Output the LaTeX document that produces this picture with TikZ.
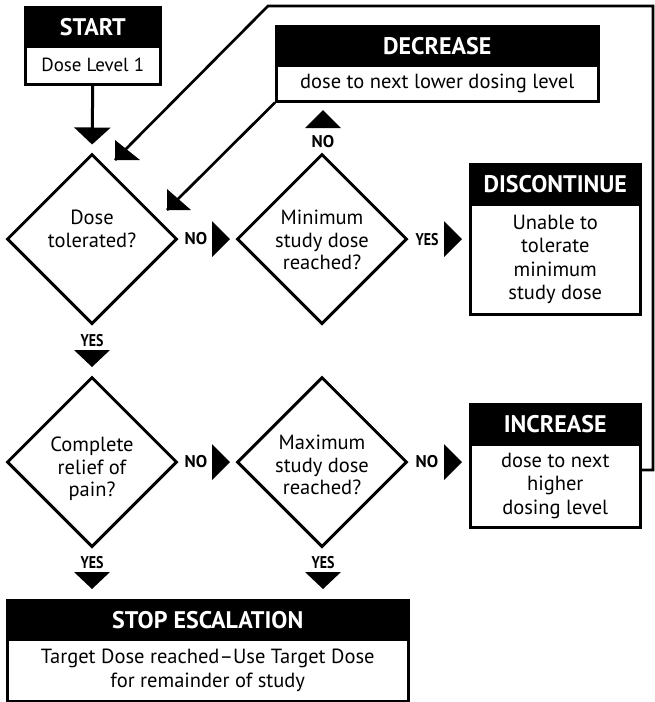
\documentclass[tikz,border=0pt]{standalone}
\usepackage{fontspec}
\setmainfont{PT Sans}
\newfontfamily\condf{PT Sans}[FakeStretch=0.82]
\usetikzlibrary{arrows.meta,shapes.geometric}
\tikzset{
  hdr/.style={fill=black, draw=black, line width=2.5pt, text=white, inner sep=0pt, anchor=north west,
    font=\fontsize{24}{28}\selectfont\bfseries},
  bodybox/.style={draw=black, line width=2.5pt, fill=white, inner sep=0pt, anchor=north west, align=center,
    font=\fontsize{20.5}{23.5}\selectfont},
  dia/.style={diamond, draw=black, line width=3pt, minimum width=170pt, minimum height=170pt, inner sep=0pt},
  diatext/.style={align=center, inner sep=0pt, font=\fontsize{20.5}{22.5}\selectfont},
  lbl/.style={inner sep=0pt, font=\condf\fontsize{17}{20}\selectfont\bfseries},
  nolbl/.style={inner sep=0pt, font=\fontsize{17}{20}\selectfont\bfseries},
  arr/.style={line width=3pt, -{Triangle[length=17pt,width=36pt]}},
  loopline/.style={line width=2.7pt, line join=miter},
}
\begin{document}
\begin{tikzpicture}[x=1pt,y=-1pt]
\useasboundingbox (0,0) rectangle (654,702);
% START box
\node[bodybox, minimum width=135pt, minimum height=38pt, font=\fontsize{19}{23}\selectfont] (startb) at (24,45) {Dose Level 1};
\node[hdr, minimum width=135pt, minimum height=39pt] (starth) at (24,6) {START};
% DECREASE box
\node[bodybox, minimum width=322pt, minimum height=36pt] (decb) at (275,64) {dose to next lower dosing level};
\node[hdr, minimum width=322pt, minimum height=39pt] (dech) at (275,25) {DECREASE};
% DISCONTINUE box
\node[bodybox, minimum width=170pt, minimum height=110pt] (disb) at (469,203) {Unable to\\tolerate\\minimum\\study dose};
\node[hdr, minimum width=170pt, minimum height=40pt] (dish) at (469,163) {DISCONTINUE};
% INCREASE box
\node[bodybox, minimum width=170pt, minimum height=83pt] (incb) at (469,443) {dose to next\\higher\\dosing level};
\node[hdr, minimum width=170pt, minimum height=40pt] (inch) at (469,403) {INCREASE};
% STOP box
\node[bodybox, minimum width=401pt, minimum height=62pt] (stopb) at (6,638) {Target Dose reached--Use Target Dose\\for remainder of study};
\node[hdr, minimum width=401pt, minimum height=39pt] (stoph) at (6,599) {STOP ESCALATION};
% diamonds
\node[dia] (d1) at (92,239) {};
\node[dia] (d2) at (322,239) {};
\node[dia] (d3) at (92,462) {};
\node[dia] (d4) at (322,462) {};
\node[diatext] (t1) at (92,229) {Dose\\tolerated?};
\node[diatext] (t2) at (322,240) {Minimum\\study dose\\reached?};
\node[diatext] (t3) at (92,469) {Complete\\relief of\\pain?};
\node[diatext] (t4) at (322,465) {Maximum\\study dose\\reached?};
% START -> d1
\draw[arr, shorten >=8pt] (startb.south) -- (d1.north);
% loop from INCREASE back to d1
\coordinate (lp1) at (653,470);
\coordinate (lp2) at (653,6);
\coordinate (lp3) at (268,6);
\coordinate (tipA) at (115,160);
\draw[loopline] (incb.east |- lp1) -- (lp1) -- (lp2) -- (lp3) -- (tipA);
\fill (tipA) -- ++(0,-20) -- ++(25,20) -- cycle;
% DECREASE -> d1
\coordinate (tipB) at (167,210);
\draw[loopline] (decb.south west) -- (tipB);
\fill (tipB) -- ++(0,-21) -- ++(24,21) -- cycle;
% NO / YES arrowheads
\node[nolbl] (no1) at (196,239) {NO};
\fill (212,221) -- (212,257) -- (230,239) -- cycle;
\node[lbl] (yes1) at (427,240) {YES};
\fill (444,221) -- (444,257) -- (462,239) -- cycle;
\node[nolbl] (no2) at (323,142) {NO};
\fill (305,128) -- (341,128) -- (323,110) -- cycle;
\node[lbl] (yes2) at (92,341) {YES};
\fill (74,350) -- (110,350) -- (92,367) -- cycle;
\node[nolbl] (no3) at (196,462) {NO};
\fill (212,444) -- (212,480) -- (230,462) -- cycle;
\node[nolbl] (no4) at (427,462) {NO};
\fill (444,444) -- (444,480) -- (462,462) -- cycle;
\node[lbl] (yes3) at (92,563) {YES};
\fill (74,572) -- (110,572) -- (92,589) -- cycle;
\node[lbl] (yes4) at (323,563) {YES};
\fill (305,572) -- (341,572) -- (323,589) -- cycle;
\end{tikzpicture}
\end{document}
